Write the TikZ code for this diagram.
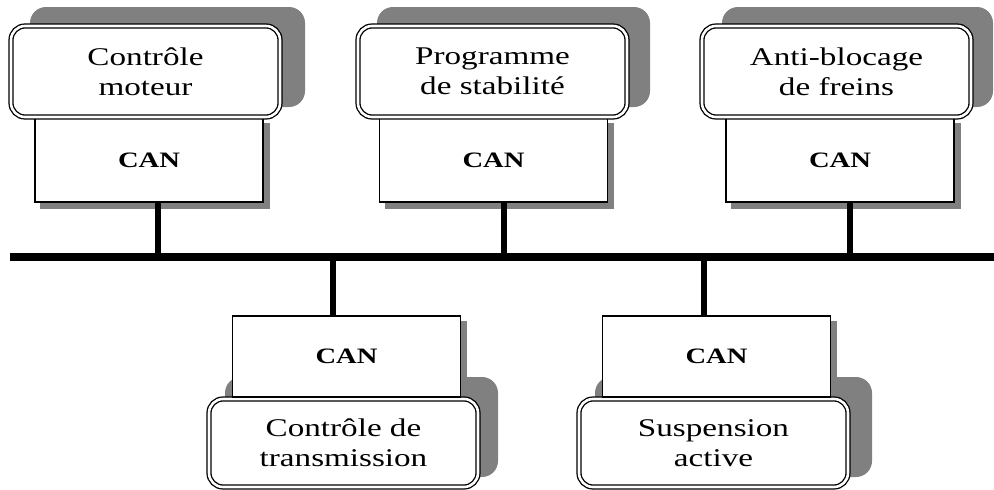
\documentclass[tikz,border=0pt]{standalone}
\usepackage{fontspec}
\setmainfont{Liberation Serif}[FakeStretch=1.3]
\usetikzlibrary{backgrounds,calc}
\definecolor{shadowc}{gray}{0.5}
\tikzset{
  ecu/.style={draw, line width=1.3pt, double=white, double distance=2.6pt,
    rounded corners=14pt, fill=white, minimum width=269pt, minimum height=#1,
    inner sep=0pt, align=center, font=\fontsize{25.5}{30}\selectfont},
  canbox/.style={draw, line width=1.4pt, fill=white, minimum width=228pt,
    minimum height=#1, inner sep=0pt, font=\bfseries\fontsize{22}{26}\selectfont},
  shade1/.style={fill=shadowc, rounded corners=16pt},
  shade2/.style={fill=shadowc},
  bus/.style={line width=8pt},
  stub/.style={line width=6pt},
}
\begin{document}
\begin{tikzpicture}[x=1pt,y=-1pt]
\useasboundingbox (0,0) rectangle (994,490);
% bus
\coordinate (busL) at (10,257);
\coordinate (busR) at (994,257);
% top CAN boxes
\node[canbox=84pt] (can1) at (149,160) {CAN};
\node[canbox=84pt] (can2) at (493.5,160) {CAN};
\node[canbox=84pt] (can3) at (840,160) {CAN};
% top ECU boxes
\node[ecu=91pt] (ecu1) at (145.5,71.5) {Contrôle\\moteur};
\node[ecu=91pt] (ecu2) at (492.5,71.5) {Programme\\de stabilité};
\node[ecu=91pt] (ecu3) at (836.5,71.5) {Anti-blocage\\de freins};
% bottom ECU boxes
\node[ecu=88pt] (ecu4) at (343.5,443) {Contrôle de\\transmission};
\node[ecu=88pt] (ecu5) at (713.5,443) {Suspension\\active};
% bottom CAN boxes
\node[canbox=81pt] (can4) at (346.5,356.5) {CAN};
\node[canbox=81pt] (can5) at (716.5,356.5) {CAN};
% shadows
\begin{scope}[on background layer]
  \fill[shade1] (30,7) rectangle (305,107);
  \fill[shade1] (377,7) rectangle (650,107);
  \fill[shade1] (722,7) rectangle (993,107);
  \fill[shade1] (225,377) rectangle (498,477);
  \fill[shade1] (595,377) rectangle (872,477);
  \fill[shade2] ($(can1.south west)+(6,6)$) rectangle ($(can1.north east)+(6,6)$);
  \fill[shade2] ($(can2.south west)+(6,6)$) rectangle ($(can2.north east)+(6,6)$);
  \fill[shade2] ($(can3.south west)+(6,6)$) rectangle ($(can3.north east)+(6,6)$);
  \fill[shade2] ($(can4.south west)+(6,6)$) rectangle ($(can4.north east)+(6,6)$);
  \fill[shade2] ($(can5.south west)+(6,6)$) rectangle ($(can5.north east)+(6,6)$);
\end{scope}
% connectors
\draw[bus] (busL) -- (busR);
\draw[stub] ([xshift=9pt]can1.south) -- ([xshift=9pt]can1.south |- busL);
\draw[stub] ([xshift=10pt]can2.south) -- ([xshift=10pt]can2.south |- busL);
\draw[stub] ([xshift=10pt]can3.south) -- ([xshift=10pt]can3.south |- busL);
\draw[stub] ([xshift=-14pt]can4.north) -- ([xshift=-14pt]can4.north |- busL);
\draw[stub] ([xshift=-13pt]can5.north) -- ([xshift=-13pt]can5.north |- busL);
\end{tikzpicture}
\end{document}
